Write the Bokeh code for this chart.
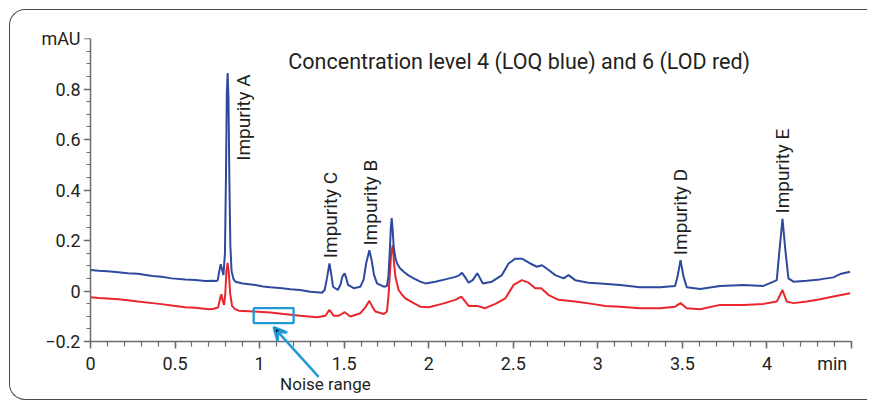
import math
from bokeh.plotting import figure
from bokeh.models import Range1d, FixedTicker, Label, Arrow, VeeHead, LinearAxis
from bokeh.embed import file_html
from bokeh.resources import INLINE

# ---------------- data ----------------
blue_time = [0.000, 0.05, 0.10, 0.165, 0.22, 0.28, 0.366, 0.42, 0.48, 0.56, 0.62, 0.68, 0.72, 0.745,
             0.752, 0.762, 0.770, 0.778, 0.786, 0.795, 0.801, 0.806, 0.811, 0.816, 0.821, 0.827, 0.834,
             0.845, 0.857, 0.90, 0.975, 1.02, 1.064, 1.12, 1.182, 1.24, 1.30, 1.34, 1.369, 1.385, 1.398,
             1.413, 1.425, 1.434, 1.462, 1.478, 1.490, 1.503, 1.515, 1.523, 1.556, 1.596, 1.615, 1.630,
             1.649, 1.663, 1.676, 1.694, 1.734, 1.753, 1.762, 1.769, 1.776, 1.781, 1.787, 1.793, 1.803,
             1.813, 1.83, 1.852, 1.88, 1.911, 1.95, 1.98, 2.039, 2.098, 2.157, 2.18, 2.197, 2.215, 2.236,
             2.26, 2.287, 2.30, 2.32, 2.374, 2.433, 2.472, 2.512, 2.551, 2.60, 2.64, 2.67, 2.709, 2.748,
             2.797, 2.827, 2.866, 2.945, 3.014, 3.132, 3.25, 3.369, 3.457, 3.471, 3.489, 3.507, 3.526,
             3.605, 3.723, 3.861, 3.979, 4.039, 4.058, 4.074, 4.092, 4.109, 4.127, 4.157, 4.236, 4.314,
             4.393, 4.433, 4.492]
blue_mau = [0.083, 0.080, 0.078, 0.074, 0.070, 0.068, 0.059, 0.056, 0.050, 0.046, 0.044, 0.040, 0.041, 0.040,
            0.042, 0.080, 0.106, 0.085, 0.063, 0.150, 0.450, 0.780, 0.863, 0.760, 0.450, 0.180, 0.080,
            0.048, 0.037, 0.030, 0.024, 0.018, 0.015, 0.012, 0.007, 0.004, -0.003, -0.005, -0.007, 0.005, 0.050,
            0.109, 0.060, 0.017, 0.004, 0.025, 0.058, 0.070, 0.045, 0.024, 0.011, 0.017, 0.045, 0.110,
            0.161, 0.120, 0.065, 0.030, 0.017, 0.020, 0.060, 0.148, 0.250, 0.289, 0.240, 0.174, 0.130,
            0.109, 0.090, 0.076, 0.062, 0.050, 0.037, 0.030, 0.037, 0.046, 0.056, 0.062, 0.072, 0.055, 0.033,
            0.043, 0.070, 0.055, 0.030, 0.037, 0.063, 0.109, 0.128, 0.128, 0.109, 0.096, 0.102, 0.083, 0.063,
            0.050, 0.063, 0.043, 0.033, 0.030, 0.024, 0.015, 0.015, 0.020, 0.056, 0.122, 0.056, 0.015,
            0.008, 0.020, 0.024, 0.020, 0.037, 0.043, 0.161, 0.286, 0.161, 0.050, 0.037, 0.041, 0.046,
            0.054, 0.067, 0.076]

red_time = [0.000, 0.05, 0.10, 0.165, 0.22, 0.28, 0.366, 0.42, 0.48, 0.56, 0.62, 0.70, 0.73, 0.755,
            0.766, 0.774, 0.782, 0.790, 0.797, 0.804, 0.811, 0.818, 0.826, 0.837, 0.855, 0.877, 0.965,
            1.064, 1.142, 1.241, 1.34, 1.389, 1.413, 1.438, 1.468, 1.503, 1.537, 1.596, 1.625, 1.649,
            1.665, 1.684, 1.734, 1.753, 1.762, 1.769, 1.778, 1.787, 1.795, 1.803, 1.822, 1.842, 1.862,
            1.911, 1.95, 2.0, 2.078, 2.157, 2.193, 2.236, 2.285, 2.334, 2.394, 2.453, 2.502, 2.551, 2.59,
            2.63, 2.665, 2.709, 2.768, 2.866, 2.965, 3.044, 3.132, 3.25, 3.369, 3.457, 3.489, 3.526,
            3.605, 3.723, 3.861, 3.979, 4.058, 4.075, 4.092, 4.105, 4.117, 4.157, 4.236, 4.314, 4.393,
            4.492]
red_mau = [-0.025, -0.028, -0.030, -0.033, -0.037, -0.042, -0.048, -0.052, -0.057, -0.064, -0.066, -0.072,
           -0.070, -0.065, -0.030, -0.013, -0.040, -0.055, -0.010, 0.080, 0.111, 0.070, -0.010, -0.059,
           -0.072, -0.078, -0.081, -0.085, -0.091, -0.098, -0.104, -0.098, -0.075, -0.098, -0.098, -0.084,
           -0.101, -0.088, -0.065, -0.039, -0.060, -0.081, -0.091, -0.081, -0.020, 0.056, 0.150, 0.181,
           0.110, 0.056, 0.004, -0.015, -0.029, -0.048, -0.062, -0.064, -0.051, -0.035, -0.022, -0.059,
           -0.059, -0.068, -0.051, -0.029, 0.024, 0.043, 0.033, 0.011, 0.011, -0.016, -0.035, -0.042,
           -0.051, -0.059, -0.062, -0.068, -0.068, -0.062, -0.048, -0.068, -0.072, -0.055, -0.055, -0.051,
           -0.042, -0.020, 0.004, -0.020, -0.042, -0.048, -0.042, -0.033, -0.022, -0.009]

impurity_names = ["Impurity A", "Impurity C", "Impurity B", "Impurity D", "Impurity E"]
peak_times = [0.811, 1.413, 1.649, 3.489, 4.092]

noise_range = [0.965, 1.201]      # min
noise_level = [-0.127, -0.068]    # mAU

x_ticks = [0, 0.5, 1, 1.5, 2, 2.5, 3, 3.5, 4, 4.5]
x_tick_labels = ["0", "0.5", "1", "1.5", "2", "2.5", "3", "3.5", "4", "min\u2007\u2007"]
y_ticks = [-0.2, 0, 0.2, 0.4, 0.6, 0.8, 1.0]
y_tick_labels = ["\u22120.2", "0", "0.2", "0.4", "0.6", "0.8", "mAU"]

title_text = "Concentration level 4 (LOQ blue) and 6 (LOD red)"
noise_text = "Noise range"

# ---------------- layout / style ----------------
FONT = "Roboto"
TXT = "#231f20"
AX = "#6b6b6b"
BLUE = "#2e4a9e"
RED = "#e8262b"
CYAN = "#1f9ad6"

label_x_offset = [0.093, 0.005, 0.006, -0.002, -0.002]
label_y = [0.516, 0.130, 0.180, 0.142, 0.307]

W, H = 867, 400
X_MIN, X_MAX = 0.0, 4.5
Y_MAX, Y_AXIS_MIN = 1.0, -0.2
ORIGIN_X, TOP = 90, 38          # pixel position of x = 0 and of y = 1.0
FRAME_LEFT = 83
px_x = 761 / 4.5
px_y = 252.5
x_start = X_MIN - (ORIGIN_X - FRAME_LEFT) / px_x
x_end = x_start + (W - FRAME_LEFT) / px_x
y_start = Y_MAX - (H - TOP) / px_y

p = figure(width=W, height=H, output_backend="svg", toolbar_location=None,
           x_range=Range1d(x_start, x_end), y_range=Range1d(y_start, Y_MAX),
           x_axis_location=None,
           min_border_left=FRAME_LEFT, min_border_right=0, min_border_top=TOP, min_border_bottom=0)
p.outline_line_color = None
p.xgrid.visible = False
p.ygrid.visible = False
p.background_fill_color = "white"
p.border_fill_color = "white"

# x axis drawn at y = -0.2, ticks and labels pointing downwards
xax = LinearAxis(fixed_location=Y_AXIS_MIN, bounds=(X_MIN, X_MAX))
p.add_layout(xax, "above")
# y axis line + ticks drawn at x = 0
yline = LinearAxis(fixed_location=X_MIN, bounds=(Y_AXIS_MIN, Y_MAX))
p.add_layout(yline, "left")
# y tick labels (no line), just left of the frame
ylab = p.yaxis[0]

for ax in (xax, yline, ylab):
    ax.axis_line_color = AX
    ax.axis_line_width = 1.5
    ax.major_tick_line_color = AX
    ax.minor_tick_line_color = AX
    ax.major_tick_line_width = 1.5
    ax.minor_tick_line_width = 1.2
    ax.major_label_text_font = FONT
    ax.major_label_text_font_size = "18px"
    ax.major_label_text_color = TXT

ylab.axis_line_color = None
ylab.major_tick_line_color = None
ylab.minor_tick_line_color = None
ylab.major_tick_in = 0
ylab.major_tick_out = 0
ylab.minor_tick_in = 0
ylab.minor_tick_out = 0
ylab.major_label_standoff = 3

yline.major_tick_in = 0
yline.minor_tick_in = 0
yline.major_tick_out = 7
yline.minor_tick_out = 4
yline.major_label_text_font_size = "0px"
yline.major_label_standoff = 0

xax.major_tick_out = 0
xax.minor_tick_out = 0
xax.major_tick_in = 7
xax.minor_tick_in = 5
xax.major_label_standoff = -32

x_minor = [round(i * 0.1, 1) for i in range(46)]
y_minor = [round(-0.2 + i * 0.05, 2) for i in range(25)]
xax.ticker = FixedTicker(ticks=x_ticks, minor_ticks=x_minor)
yline.ticker = FixedTicker(ticks=y_ticks, minor_ticks=y_minor)
ylab.ticker = FixedTicker(ticks=y_ticks, minor_ticks=[])
xax.major_label_overrides = {t: l for t, l in zip(x_ticks, x_tick_labels)}
ylab.major_label_overrides = {t: l for t, l in zip(y_ticks, y_tick_labels)}
yline.major_label_overrides = {t: "" for t in y_ticks}

p.line(red_time, red_mau, line_color=RED, line_width=2)
p.line(blue_time, blue_mau, line_color=BLUE, line_width=2)

p.quad(left=[noise_range[0]], right=[noise_range[1]], bottom=[noise_level[0]], top=[noise_level[1]],
       fill_color=None, line_color=CYAN, line_width=2.3)

p.add_layout(Arrow(end=VeeHead(size=13, line_color=CYAN, line_width=2.5),
                   x_start=1.349, y_start=-0.340, x_end=1.083, y_end=-0.143,
                   line_color=CYAN, line_width=2.5))

p.add_layout(Label(x=1.389, y=-0.370, text=noise_text, text_align="center", text_baseline="middle",
                   text_font=FONT, text_font_size="17px", text_color=TXT))

p.add_layout(Label(x=2.535, y=0.909, text=title_text, text_align="center", text_baseline="middle",
                   text_font=FONT, text_font_size="21.5px", text_color=TXT))

for name, rt, dx, ly in zip(impurity_names, peak_times, label_x_offset, label_y):
    p.add_layout(Label(x=rt + dx, y=ly, text=name, angle=math.pi / 2, text_align="left",
                       text_baseline="middle", text_font=FONT, text_font_size="19px", text_color=TXT))

p.stylesheets = [":host::after { content: ''; position: absolute; left: 9px; top: 9px; right: 0; "
                 "bottom: 0; border-top: 1.5px solid #4a4a4a; border-left: 1.5px solid #4a4a4a; "
                 "border-bottom: 1.5px solid #4a4a4a; border-top-left-radius: 16px; "
                 "border-bottom-left-radius: 16px; pointer-events: none; }"]

open("out.html", "w").write(file_html(p, INLINE))
